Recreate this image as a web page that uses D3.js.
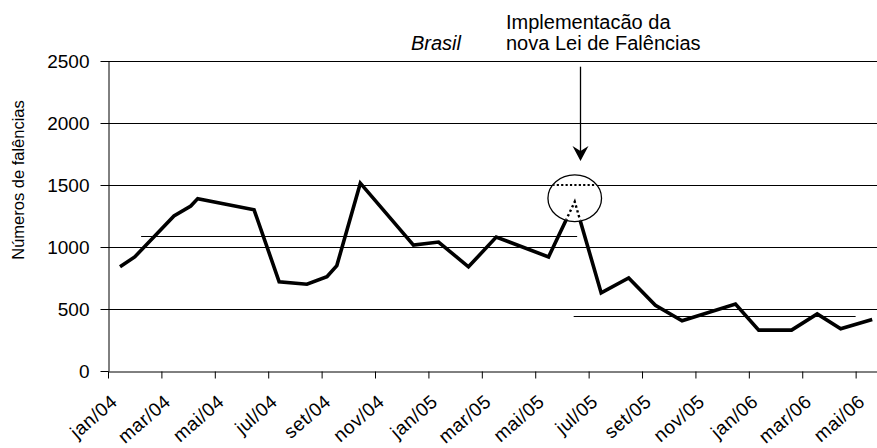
<!DOCTYPE html>
<html><head><meta charset="utf-8">
<script src="https://cdn.jsdelivr.net/npm/d3@7"></script>
<style>
body{margin:0;background:#fff}
svg{display:block}
text{font-family:"Liberation Sans",Arial,Helvetica,sans-serif;fill:#000}
</style>
</head><body>
<svg id="chart" width="877" height="448"></svg>
<script>
// ---- data ----
const tickMonths = [0,2,4,6,8,10,12,14,16,18,20,22,24,26,28];
const tickLabels = ["jan/04","mar/04","mai/04","jul/04","set/04","nov/04","jan/05","mar/05","mai/05","jul/05","set/05","nov/05","jan/06","mar/06","mai/06"];
const yTicks = [0,500,1000,1500,2000,2500];
// month position (0 = start of jan/04) and number of bankruptcies
const months = [0.45,1.0,2.47,3.1,3.36,5.47,6.41,7.45,8.2,8.57,9.45,11.44,12.38,13.5,14.54,16.5,17.48,18.47,19.5,20.5,21.5,23.5,24.37,25.6,26.56,27.44,28.62];
const falencias = [840,920,1250,1330,1390,1300,720,700,760,850,1515,1015,1040,840,1080,920,1365,630,750,530,405,540,330,330,460,340,415];
// average lines before / after the new law
const meanMonthsBefore = [1.24,17.57];
const meanValuesBefore = [1090,1090];
const meanMonthsAfter = [17.44,28.0];
const meanValuesAfter = [440,440];
// annotation
const titleText = "Brasil";
const noteLines = ["Implementacão da","nova Lei de Falências"];
const yTitle = "Números de falências";
const highlightMonth = 17.48, highlightValue = 1393;
const arrowMonth = 17.68, arrowFrom = 2454, arrowTo = 1694;

// ---- chart ----
const svg = d3.select("#chart");
const x = d3.scaleLinear().domain([0,28.8]).range([108,877]);
const y = d3.scaleLinear().domain([0,2500]).range([371,61]);

// gridlines
svg.append("g").selectAll("line").data(yTicks.filter(d=>d>0)).join("line")
  .attr("x1",x(0)).attr("x2",x(28.8))
  .attr("y1",d=>Math.round(y(d))+0.5).attr("y2",d=>Math.round(y(d))+0.5)
  .attr("stroke","#000").attr("stroke-width",1);

// mean lines
[[meanMonthsBefore,meanValuesBefore],[meanMonthsAfter,meanValuesAfter]].forEach(([ms,vs])=>{
  const pts = ms.map((m,i)=>[x(m),Math.round(y(vs[i]))+0.5]);
  svg.append("path").attr("d",d3.line()(pts)).attr("fill","none").attr("stroke","#000").attr("stroke-width",1);
});

// axes
const xAxis = svg.append("g").attr("transform","translate(0,371.5)")
  .call(d3.axisBottom(x).tickValues(tickMonths).tickSize(7).tickSizeOuter(0)
    .tickFormat((d,i)=>tickLabels[i]));
xAxis.selectAll("text")
  .attr("font-size",19).attr("letter-spacing","0.5px").attr("text-anchor","end")
  .attr("x",0).attr("y",0).attr("dy",null)
  .attr("transform","translate(10,32) rotate(-41)");
const yAxis = svg.append("g").attr("transform","translate(108.5,0)")
  .call(d3.axisLeft(y).tickValues(yTicks).tickSize(8).tickPadding(11).tickSizeOuter(0)
    .tickFormat(d3.format("d")));
yAxis.selectAll("text").attr("font-size",19);
svg.selectAll(".domain, .tick line").attr("stroke","#000").attr("stroke-width",1);
svg.selectAll(".tick text").attr("fill","#000").style("font-family",'"Liberation Sans",Arial,sans-serif');

// data line
const line = d3.line().x((d,i)=>x(months[i])).y(d=>y(d));
svg.append("path").datum(falencias).attr("d",line)
  .attr("fill","none").attr("stroke","#000").attr("stroke-width",3.6).attr("stroke-linejoin","miter");

// highlight ellipse
const cx = x(highlightMonth), cy = y(highlightValue), rx = 26.8, ry = 23.3;
svg.append("clipPath").attr("id","ell").append("ellipse")
  .attr("cx",cx).attr("cy",cy).attr("rx",rx-0.5).attr("ry",ry-0.5);
svg.append("ellipse").attr("cx",cx).attr("cy",cy).attr("rx",rx).attr("ry",ry).attr("fill","#fff");
const inner = svg.append("g").attr("clip-path","url(#ell)");
inner.append("line").attr("x1",cx-rx).attr("x2",cx+rx)
  .attr("y1",y(1500)).attr("y2",y(1500))
  .attr("stroke","#000").attr("stroke-width",2.2).attr("stroke-dasharray","2.2,2.2");
inner.append("path").datum(falencias).attr("d",line)
  .attr("fill","none").attr("stroke","#000").attr("stroke-width",2.4).attr("stroke-dasharray","2.4,2.6");
svg.append("ellipse").attr("cx",cx).attr("cy",cy).attr("rx",rx).attr("ry",ry)
  .attr("fill","none").attr("stroke","#000").attr("stroke-width",1.3);

// arrow
const ax = Math.round(x(arrowMonth))+0.5;
svg.append("line").attr("x1",ax).attr("x2",ax).attr("y1",y(arrowFrom)).attr("y2",y(arrowTo)-10)
  .attr("stroke","#000").attr("stroke-width",1.3);
const tipY = y(arrowTo);
svg.append("path").attr("d",`M${ax},${tipY} L${ax-8},${tipY-15} L${ax},${tipY-10} L${ax+8},${tipY-15} Z`).attr("fill","#000");

// texts
svg.append("text").attr("x",411).attr("y",50).attr("font-size",20).attr("font-style","italic").text(titleText);
svg.append("text").attr("x",506).attr("y",28.5).attr("font-size",20).text(noteLines[0]);
svg.append("text").attr("x",506).attr("y",50).attr("font-size",20).text(noteLines[1]);
svg.append("text").attr("transform","translate(24,180) rotate(-90)").attr("text-anchor","middle")
  .attr("font-size",16.5).text(yTitle);
</script>
</body></html>
